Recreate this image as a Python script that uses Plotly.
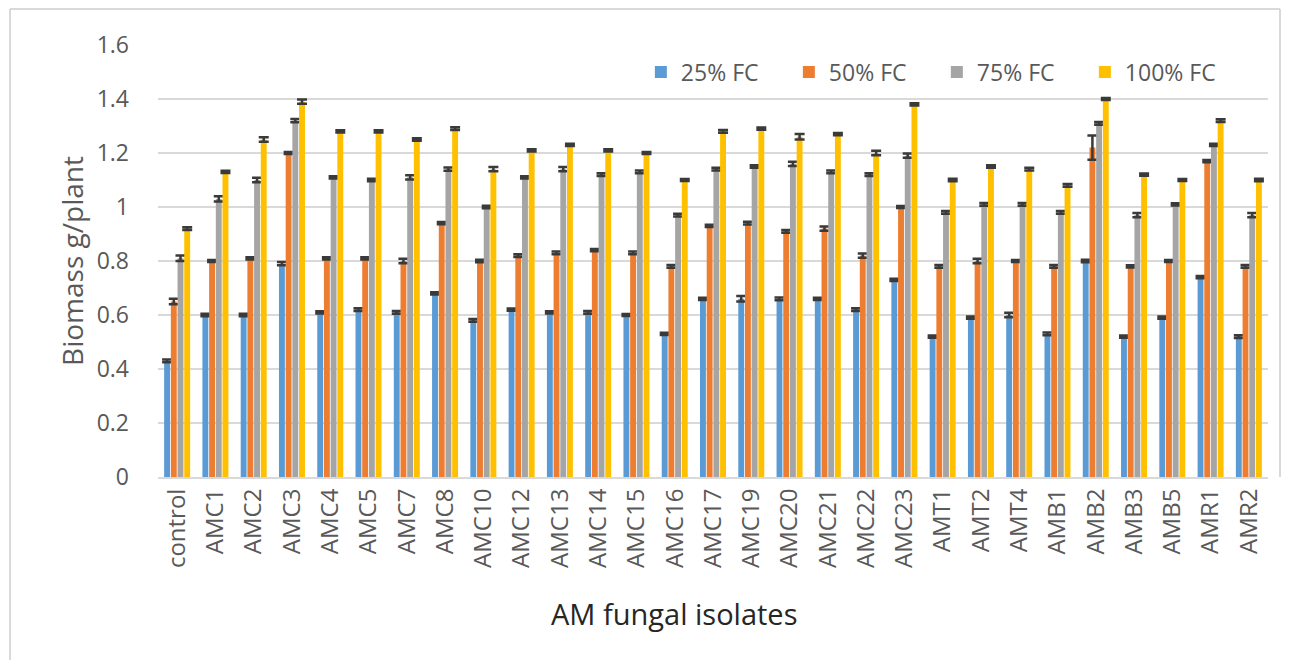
import plotly.graph_objects as go

categories = ["control", "AMC1", "AMC2", "AMC3", "AMC4", "AMC5", "AMC7", "AMC8", "AMC10",
              "AMC12", "AMC13", "AMC14", "AMC15", "AMC16", "AMC17", "AMC19", "AMC20", "AMC21",
              "AMC22", "AMC23", "AMT1", "AMT2", "AMT4", "AMB1", "AMB2", "AMB3", "AMB5", "AMR1", "AMR2"]

fc25 = [0.43, 0.60, 0.60, 0.79, 0.61, 0.62, 0.61, 0.68, 0.58, 0.62, 0.61, 0.61, 0.60, 0.53, 0.66,
        0.66, 0.66, 0.66, 0.62, 0.73, 0.52, 0.59, 0.60, 0.53, 0.80, 0.52, 0.59, 0.74, 0.52]
fc50 = [0.65, 0.80, 0.81, 1.20, 0.81, 0.81, 0.80, 0.94, 0.80, 0.82, 0.83, 0.84, 0.83, 0.78, 0.93,
        0.94, 0.91, 0.92, 0.82, 1.00, 0.78, 0.80, 0.80, 0.78, 1.22, 0.78, 0.80, 1.17, 0.78]
fc75 = [0.81, 1.03, 1.10, 1.32, 1.11, 1.10, 1.11, 1.14, 1.00, 1.11, 1.14, 1.12, 1.13, 0.97, 1.14,
        1.15, 1.16, 1.13, 1.12, 1.19, 0.98, 1.01, 1.01, 0.98, 1.31, 0.97, 1.01, 1.23, 0.97]
fc100 = [0.92, 1.13, 1.25, 1.39, 1.28, 1.28, 1.25, 1.29, 1.14, 1.21, 1.23, 1.21, 1.20, 1.10, 1.28,
         1.29, 1.26, 1.27, 1.20, 1.38, 1.10, 1.15, 1.14, 1.08, 1.40, 1.12, 1.10, 1.32, 1.10]

err25 = [0.005, 0.005, 0.005, 0.006, 0.004, 0.005, 0.005, 0.004, 0.005, 0.004, 0.004, 0.005, 0.004, 0.004, 0.004,
         0.01, 0.005, 0.004, 0.005, 0.004, 0.004, 0.004, 0.008, 0.005, 0.005, 0.004, 0.004, 0.004, 0.005]
err50 = [0.01, 0.004, 0.004, 0.004, 0.004, 0.004, 0.008, 0.004, 0.005, 0.005, 0.005, 0.004, 0.005, 0.005, 0.004,
         0.005, 0.005, 0.008, 0.008, 0.004, 0.005, 0.008, 0.004, 0.005, 0.045, 0.004, 0.004, 0.004, 0.005]
err75 = [0.01, 0.01, 0.008, 0.006, 0.004, 0.005, 0.008, 0.006, 0.005, 0.004, 0.008, 0.005, 0.005, 0.005, 0.005,
         0.005, 0.008, 0.005, 0.005, 0.008, 0.005, 0.005, 0.005, 0.005, 0.005, 0.008, 0.004, 0.004, 0.008]
err100 = [0.005, 0.004, 0.008, 0.008, 0.004, 0.004, 0.005, 0.005, 0.008, 0.004, 0.004, 0.004, 0.004, 0.004, 0.005,
          0.004, 0.01, 0.004, 0.008, 0.004, 0.005, 0.005, 0.005, 0.005, 0.004, 0.004, 0.004, 0.005, 0.005]

series = [("25% FC", fc25, err25, "#5B9BD5"),
          ("50% FC", fc50, err50, "#ED7D31"),
          ("75% FC", fc75, err75, "#A5A5A5"),
          ("100% FC", fc100, err100, "#FFC000")]

fig = go.Figure()
for name, vals, errs, color in series:
    fig.add_trace(go.Bar(
        x=categories, y=vals, name=name, marker_color=color, marker_line_width=0,
        error_y=dict(type="data", array=errs, visible=True, color="#3a3a3a",
                     thickness=2.5, width=5),
    ))

grey = "#595959"
border = "#d9d9d9"
fig.update_layout(
    width=1273, height=652, autosize=False,
    margin=dict(l=150, r=13, t=37, b=183, autoexpand=False),
    paper_bgcolor="white", plot_bgcolor="white",
    barmode="group", bargap=0.3, bargroupgap=0.12,
    font=dict(family="Open Sans, Arial", color=grey),
    legend=dict(orientation="h", x=0.435, y=0.9375, xanchor="left", yanchor="middle",
                font=dict(size=23, color=grey), bgcolor="rgba(255,255,255,0)",
                entrywidth=103, entrywidthmode="pixels", itemwidth=30, traceorder="normal"),
    xaxis=dict(tickangle=-90, tickfont=dict(size=24, color=grey), showline=True,
               tickmode="array", tickvals=categories, ticktext=categories,
               linecolor=border, linewidth=2, ticks="", automargin=False),
    yaxis=dict(title=dict(text="Biomass g/plant", font=dict(size=28, color=grey), standoff=4),
               range=[0, 1.6], dtick=0.2, tickfont=dict(size=23, color=grey),
               gridcolor=border, gridwidth=1.5, zeroline=False, ticks="", ticklabelstandoff=28,
               automargin=False),
    annotations=[dict(text="AM fungal isolates", xref="paper", yref="paper", x=0.465, y=-0.317,
                      xanchor="center", yanchor="middle", showarrow=False,
                      font=dict(size=29, color="#262626"))],
    shapes=[
        dict(type="line", xref="paper", yref="paper", x0=-0.1333, x1=-0.1333, y0=-0.45, y1=1.0833,
             line=dict(color=border, width=2)),
        dict(type="line", xref="paper", yref="paper", x0=-0.1333, x1=1.0108, y0=1.0833, y1=1.0833,
             line=dict(color=border, width=2)),
        dict(type="line", xref="paper", yref="paper", x0=1.0108, x1=1.0108, y0=0.0, y1=1.0833,
             line=dict(color=border, width=2)),
    ],
)

fig.write_html("out.html")
